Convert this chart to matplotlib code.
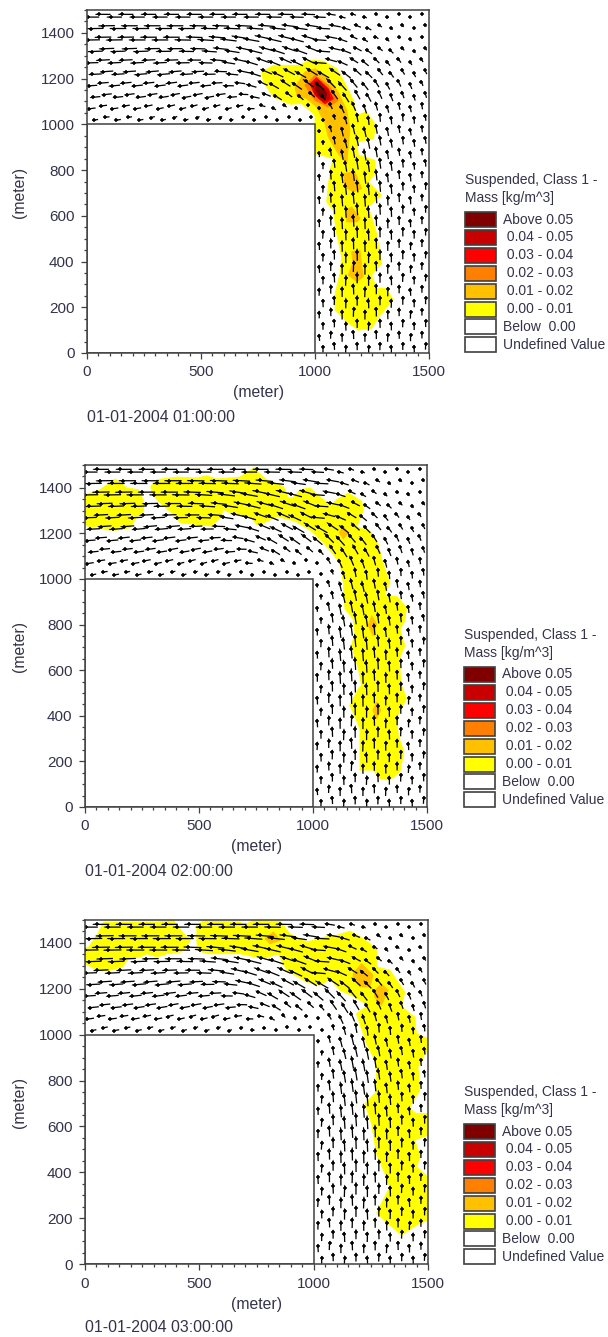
import numpy as np
import matplotlib
matplotlib.use("Agg")
import matplotlib.pyplot as plt
from matplotlib.patches import Polygon, Rectangle
from matplotlib.ticker import MultipleLocator

plt.rcParams['font.family'] = ['Liberation Sans', 'DejaVu Sans']

W, H = 608, 1337
TXT = '#33334a'
FRAME = '#404040'

# ---------- data ----------
TIMES = ['01-01-2004 01:00:00', '01-01-2004 02:00:00', '01-01-2004 03:00:00']
LEG_TITLE = ['Suspended, Class 1 -', 'Mass [kg/m^3]']
LEG_LABELS = ['Above 0.05', ' 0.04 - 0.05', ' 0.03 - 0.04', ' 0.02 - 0.03',
              ' 0.01 - 0.02', ' 0.00 - 0.01', 'Below  0.00', 'Undefined Value']
LEG_COLORS = ['#800000', '#C80000', '#FF0000', '#FF8000', '#FFC000', '#FFFF00', '#FFFFFF', '#FFFFFF']

TOP_X = [25, 75, 125, 175, 225, 275, 325, 375, 425, 475, 525, 575, 625, 675, 725,
         775, 825, 875, 925, 975, 1025, 1075, 1125, 1175, 1225, 1275, 1325, 1375, 1425, 1475]
TOP_Y = [1475, 1425, 1375, 1325, 1275, 1225, 1175, 1125, 1075, 1025]
TOP_ANG = [
 [180,180,180,180,180,180,180,180,180,180,180,180,180,180,180,180,179,179,178,178,177,171,165,160,155,150,146,142,138,135],
 [181,181,180,180,180,180,180,180,180,179,179,178,178,177,176,175,174,173,172,171,177,170,163,158,152,147,143,138,135,132],
 [181,181,181,181,180,180,180,180,179,178,176,175,173,171,170,168,167,166,165,164,176,169,161,155,149,144,139,135,131,128],
 [182,182,182,182,182,181,181,180,179,178,176,174,171,168,166,164,162,161,160,158,176,167,159,152,145,140,135,131,127,124],
 [182,183,183,183,183,183,183,182,181,180,178,175,171,167,163,160,158,156,155,153,175,165,156,148,141,135,130,126,123,120],
 [183,184,184,184,185,185,185,185,184,183,181,178,174,168,162,157,155,152,150,148,150,146,142,138,135,129,125,121,118,115],
 [184,185,185,186,186,186,187,187,187,186,185,183,179,172,164,156,150,147,145,143,140,135,132,130,128,122,118,115,112,110],
 [186,186,186,187,188,188,189,190,190,190,190,188,185,178,168,158,148,142,140,138,130,125,122,120,119,114,111,108,106,105],
 [188,188,188,189,190,191,192,193,194,195,195,195,193,188,178,165,150,140,132,130,125,118,115,113,108,105,103,101,100,99],
 [190,190,190,190,192,193,195,197,198,199,200,200,200,198,190,175,150,135,125,125,115,108,104,100,96,95,94,94,93,93],
]
TOP_LEN = [
 [55,55,55,55,55,55,55,55,55,55,55,55,55,55,55,55,55,55,50,50,45,35,25,18,14,10,8,6,5,5],
 [60,60,60,60,60,60,60,60,60,60,60,60,60,60,60,60,58,55,52,50,50,45,35,28,22,16,12,10,8,8],
 [60,60,60,60,60,60,60,60,60,60,60,60,60,60,60,58,56,54,52,50,50,45,38,30,24,18,14,12,10,10],
 [55,55,55,55,55,55,55,55,55,55,55,55,55,55,55,55,54,53,52,50,50,45,40,35,30,24,20,16,14,14],
 [50,50,50,50,50,50,50,50,50,50,50,50,50,50,50,50,50,50,50,48,50,45,42,38,34,30,26,22,18,16],
 [48,48,48,48,48,48,48,48,48,46,46,46,46,46,46,46,46,48,48,50,50,48,44,40,36,32,28,25,22,20],
 [42,42,42,42,42,42,42,42,40,40,40,40,40,40,40,40,42,44,46,46,45,48,46,42,38,34,30,28,25,22],
 [38,38,38,38,38,38,38,36,36,36,36,36,36,36,36,36,36,30,30,30,25,40,42,40,36,34,30,28,25,25],
 [30,30,30,30,30,30,28,28,26,26,26,26,26,26,25,22,18,14,10,8,8,25,35,38,36,34,30,28,26,25],
 [22,22,22,20,20,20,18,18,16,15,15,14,12,10,10,6,4,3,3,3,3,18,30,35,35,32,30,28,26,25],
]
RIGHT_X = [1025, 1075, 1125, 1175, 1225, 1275, 1325, 1375, 1425, 1475]
RIGHT_Y = [975, 925, 875, 825, 775, 725, 675, 625, 575, 525, 475, 425, 375, 325, 275, 225, 175, 125, 75, 25]
RIGHT_ANG = [
 [92,102,104,103,102,101,100,99,98,97],
 [91,100,103,102,101,100,99,98,97,96],
 [90,98,101,100,100,99,98,97,96,95],
 [90,96,99,99,98,98,97,96,95,94],
 [90,95,97,97,97,96,96,95,94,93],
 [88,94,96,96,95,95,94,94,93,92],
 [92,93,95,95,94,94,93,93,92,92],
 [87,92,94,94,93,93,92,92,92,91],
 [90,92,93,93,92,92,92,91,91,91],
 [86,91,92,92,92,91,91,91,90,90],
 [92,91,91,91,91,91,90,90,90,90],
 [88,90,91,91,90,90,90,90,90,90],
 [93,90,90,88,90,92,90,90,90,88],
 [90,92,88,90,90,90,92,88,90,90],
 [86,90,90,92,88,90,90,90,92,90],
 [92,88,90,90,92,90,88,90,90,90],
 [88,92,90,88,90,90,92,90,88,90],
 [90,90,92,90,88,92,90,88,90,92],
 [94,88,90,92,90,90,88,92,90,90],
 [90,92,88,90,92,88,90,90,92,88],
]
RIGHT_LEN = [
 [10,25,36,40,40,36,32,30,28,26],
 [15,30,38,42,42,38,34,30,28,26],
 [20,32,40,44,44,40,34,30,28,26],
 [24,34,42,46,44,40,36,32,28,26],
 [26,36,42,46,46,42,36,32,30,26],
 [28,38,44,46,46,42,38,32,30,28],
 [28,38,44,46,46,42,38,34,30,28],
 [30,38,44,46,46,42,38,34,30,28],
 [30,38,44,46,44,42,38,34,30,28],
 [30,38,42,44,44,40,38,34,30,28],
 [30,38,42,44,44,40,36,34,30,28],
 [30,36,42,44,42,40,36,34,30,28],
 [30,36,40,42,42,38,36,34,30,28],
 [30,36,40,42,40,38,36,32,30,28],
 [30,34,38,40,40,38,34,32,30,28],
 [30,34,38,38,38,36,34,32,30,28],
 [28,32,36,36,36,34,34,32,30,28],
 [28,30,34,34,34,34,32,30,30,28],
 [26,30,32,32,32,32,32,30,28,28],
 [26,28,30,30,30,30,30,28,28,26],
]
FIELD_SCALE = [1.25, 1.3, 1.35]

# plume outlines, (x, y) in metres, per hour and class colour
P1_YELLOW = [(766,1229),(818,1258),(876,1258),(934,1258),(971,1280),(1037,1277),(1095,1243),(1132,1178),(1168,1105),(1183,1040),(1226,1054),(1267,996),(1256,938),(1183,923),(1190,865),(1263,843),(1263,785),(1234,748),(1292,690),(1234,639),(1270,523),(1292,392),(1248,341),(1270,282),(1314,282),(1343,232),(1285,166),(1248,108),(1190,100),(1139,137),(1088,188),(1088,261),(1110,348),(1117,421),(1095,523),(1080,625),(1051,661),(1066,799),(1080,850),(1059,857),(1000,872),(1000,1040),(942,1091),(891,1088),(818,1120),(774,1185)]
P1_O1 = [[(912,1163),(956,1229),(1000,1243),(1066,1192),(1102,1141),(1139,1061),(1153,981),(1146,901),(1139,828),(1102,872),(1058,945),(1044,1003),(1007,1076),(964,1112),(920,1127)],
         [(1124,785),(1175,792),(1205,719),(1168,705),(1132,727)],
         [(1139,625),(1161,639),(1197,588),(1183,573),(1139,573)],
         [(1161,443),(1197,450),(1204,392),(1212,333),(1183,312),(1146,341),(1165,392)]]
P1_O2 = [(956,1171),(1000,1214),(1058,1171),(1102,1105),(1058,1076),(1000,1105)]
P1_R1 = [(978,1178),(1007,1204),(1058,1156),(1080,1112),(1044,1090),(1000,1127)]
P1_R2 = [(990,1171),(1015,1192),(1058,1149),(1066,1112),(1037,1098),(1000,1134)]
P1_R3 = [(1000,1160),(1022,1171),(1051,1134),(1044,1108),(1015,1127)]

P2_YELLOW_A = [(0,1370),(67,1392),(133,1439),(184,1399),(235,1392),(257,1341),(257,1297),(228,1275),(199,1225),(133,1214),(89,1217),(53,1232),(23,1225),(0,1239)]
P2_YELLOW_B = [(289,1406),(315,1436),(403,1447),(491,1443),(534,1453),(578,1439),(680,1447),(717,1472),(746,1491),(761,1465),(797,1436),(870,1406),(892,1356),(914,1356),(943,1392),(987,1399),(1045,1348),(1075,1319),(1104,1348),(1155,1377),(1213,1341),(1221,1305),(1199,1246),(1191,1229),(1250,1210),(1286,1152),(1301,1086),(1337,984),(1315,929),(1367,923),(1410,875),(1403,817),(1381,780),(1403,708),(1381,657),(1381,606),(1388,533),(1410,475),(1367,395),(1374,314),(1399,242),(1381,154),(1337,118),(1294,125),(1264,162),(1206,162),(1206,344),(1162,446),(1199,518),(1213,533),(1199,606),(1169,708),(1184,766),(1177,824),(1140,868),(1133,984),(1118,1072),(1053,1152),(994,1210),(921,1254),(841,1275),(783,1246),(753,1239),(724,1275),(651,1283),(607,1305),(593,1268),(556,1232),(491,1239),(418,1246),(388,1283),(315,1348),(293,1377)]
P2_O1 = [[(1133,1232),(1155,1203),(1133,1176),(1115,1203)],
         [(1257,839),(1279,802),(1264,751),(1242,795)],
         [(1279,460),(1297,424),(1279,387),(1262,424)]]

P3_YELLOW_A = [(16,1382),(52,1433),(81,1491),(292,1491),(314,1491),(387,1498),(431,1440),(460,1411),(423,1361),(358,1353),(314,1339),(271,1353),(242,1339),(191,1332),(162,1295),(111,1281),(52,1281),(0,1310),(0,1375)]
P3_YELLOW_B = [(489,1477),(518,1496),(678,1491),(693,1477),(736,1498),(853,1496),(896,1440),(969,1404),(1049,1426),(1100,1433),(1158,1452),(1216,1419),(1275,1375),(1275,1295),(1333,1281),(1398,1186),(1384,1121),(1442,1077),(1449,1005),(1500,983),(1500,939),(1456,860),(1464,758),(1417,678),(1449,656),(1500,656),(1500,562),(1442,540),(1467,468),(1449,424),(1500,380),(1500,192),(1449,170),(1384,126),(1333,170),(1275,221),(1333,337),(1311,395),(1275,482),(1253,613),(1224,700),(1275,751),(1275,874),(1231,961),(1187,1092),(1238,1128),(1180,1164),(1115,1194),(1071,1244),(1027,1215),(969,1230),(882,1281),(845,1353),(780,1332),(678,1353),(533,1353),(492,1368),(489,1411)]
P3_O1 = [[(1173,1266),(1209,1310),(1260,1259),(1246,1208),(1202,1208),(1173,1244)],
         [(1267,1194),(1296,1220),(1326,1194),(1296,1128),(1267,1164)],
         [(787,1419),(824,1448),(853,1411),(809,1397)]]

PLUMES = [
    [(P1_YELLOW, '#FFFF00')] + [(p, '#FFC000') for p in P1_O1] +
    [(P1_O2, '#FF8000'), (P1_R1, '#FF0000'), (P1_R2, '#C80000'), (P1_R3, '#800000')],
    [(P2_YELLOW_A, '#FFFF00'), (P2_YELLOW_B, '#FFFF00')] + [(p, '#FFC000') for p in P2_O1],
    [(P3_YELLOW_A, '#FFFF00'), (P3_YELLOW_B, '#FFFF00')] + [(p, '#FFC000') for p in P3_O1],
]

# ---------- layout in reference pixels: left, right, top, bottom ----------
PANELS = [(87, 429, 10, 353), (85, 427, 465, 807), (85, 428, 920, 1264)]
LEG_OFF = [(0, 0), (-1, 455), (-1, 912)]
DATE_X = [87, 85, 85]

fig = plt.figure(figsize=(W/100, H/100), dpi=100, facecolor='white')
over = fig.add_axes([0, 0, 1, 1], zorder=5)
over.set_xlim(0, W); over.set_ylim(H, 0); over.axis('off')


def draw_field(ax, xs, ys, ang, ln, scale):
    px, py, u, v = [], [], [], []
    for r, y in enumerate(ys):
        for c, x in enumerate(xs):
            a = np.deg2rad(ang[r][c]); l = ln[r][c] * scale
            shift = 10 if (r % 2) else -6
            px.append(x + shift); py.append(y + (6 if c % 2 else -6))
            u.append(l*np.cos(a)); v.append(l*np.sin(a))
    px, py, u, v = map(np.array, (px, py, u, v))
    ax.quiver(px, py, u, v, angles='xy', scale_units='xy', scale=1, units='xy',
              width=5.6, headwidth=1, headlength=1, headaxislength=1,
              pivot='mid', color='black', zorder=3, minlength=0.3)
    ax.scatter(px + 0.22*u, py + 0.22*v, s=7, marker='+', color='black', linewidths=1.1, zorder=3)


for i, (l, r, t, b) in enumerate(PANELS):
    ax = fig.add_axes([l/W, 1-b/H, (r-l)/W, (b-t)/H], zorder=1)
    ax.set_xlim(0, 1500); ax.set_ylim(0, 1500)
    for pts, col in PLUMES[i]:
        ax.add_patch(Polygon(pts, closed=True, facecolor=col, edgecolor=col, lw=0.6, zorder=1, joinstyle='round'))
    draw_field(ax, TOP_X, TOP_Y, TOP_ANG, TOP_LEN, FIELD_SCALE[i])
    draw_field(ax, RIGHT_X, RIGHT_Y, RIGHT_ANG, RIGHT_LEN, FIELD_SCALE[i])
    ax.add_patch(Rectangle((0, 0), 1000, 1000, facecolor='white', edgecolor=FRAME, lw=1.1, zorder=4))
    ax.xaxis.set_major_locator(MultipleLocator(500))
    ax.xaxis.set_minor_locator(MultipleLocator(50))
    ax.yaxis.set_major_locator(MultipleLocator(200))
    ax.yaxis.set_minor_locator(MultipleLocator(50))
    ax.tick_params(which='major', length=4, width=0.9, color=FRAME, labelsize=11, labelcolor=TXT, pad=5)
    ax.tick_params(which='minor', length=2.5, width=0.9, color=FRAME)
    for s in ax.spines.values():
        s.set_color(FRAME); s.set_linewidth(1.1); s.set_zorder(6)
    over.text((l+r)/2 + 0, b + 40, '(meter)', ha='center', va='center', fontsize=11.3, color=TXT)
    over.text(20, (t+b)/2 + 11, '(meter)', rotation=90, ha='center', va='center', fontsize=11.3, color=TXT)
    over.text(DATE_X[i], b + 64, TIMES[i], ha='left', va='center', fontsize=11.4, color=TXT)

    dx, dy = LEG_OFF[i]
    over.text(465+dx, 180+dy, LEG_TITLE[0], ha='left', va='center', fontsize=10, color=TXT)
    over.text(465+dx, 198+dy, LEG_TITLE[1], ha='left', va='center', fontsize=10, color=TXT)
    for k, (lab, col) in enumerate(zip(LEG_LABELS, LEG_COLORS)):
        yc = 219.5 + 17.9*k + dy
        over.add_patch(Rectangle((465+dx, yc-7.5), 31, 15, facecolor=col, edgecolor=FRAME, lw=1.2))
        over.text(503+dx, yc, lab, ha='left', va='center', fontsize=10, color=TXT)

fig.savefig('out.png', dpi=100)
